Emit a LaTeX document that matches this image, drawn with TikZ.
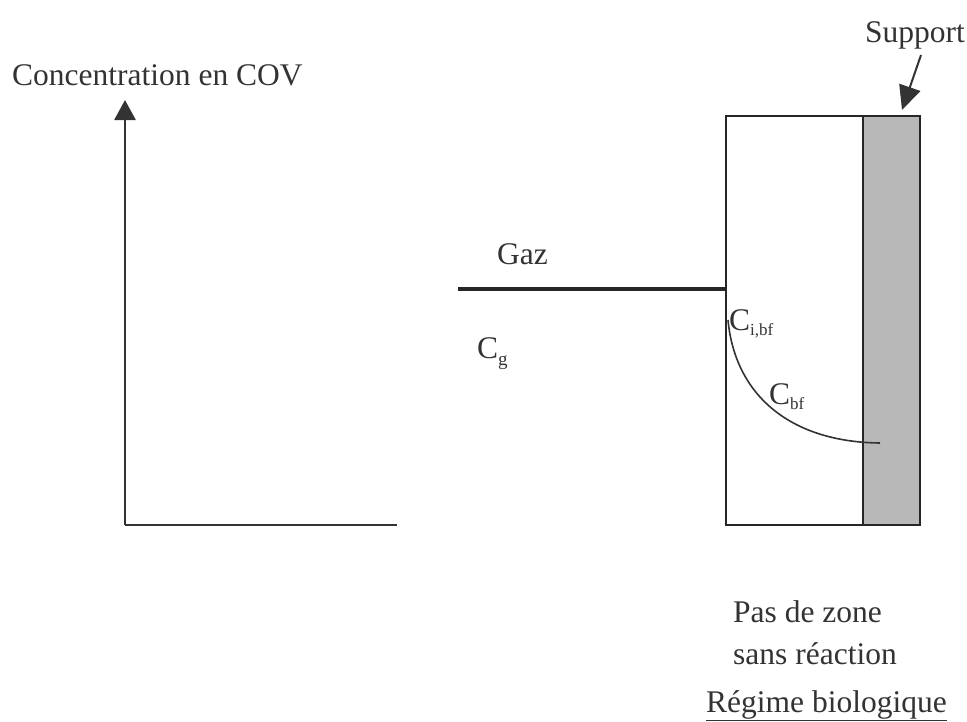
\documentclass[tikz,border=0pt]{standalone}
\usepackage{fontspec}
\setmainfont{Liberation Serif}
\usetikzlibrary{arrows.meta}
\begin{document}
\begin{tikzpicture}[x=1pt,y=-1pt,
  lbl/.style={font=\fontsize{31.5}{37}\selectfont, inner sep=0pt, text=black!80},
  axisline/.style={line width=2.8pt, draw=black!80},
  bigarrow/.style={-{Triangle[length=20pt,width=21pt]}},
  boxline/.style={line width=1.8pt, draw=black!85}]
\useasboundingbox (0,0) rectangle (967,721);
% axes
\coordinate (origin) at (125,525);
\coordinate (ytop) at (125,100);
\coordinate (xend) at (397,525);
\draw[axisline, bigarrow] (origin) -- (ytop);
\draw[axisline] (origin) -- (xend);
\node[lbl, anchor=base west] (ylabel) at (12,85) {Concentration en COV};
% gas line
\coordinate (gasstart) at (458,289);
\coordinate (gasend) at (727,289);
\draw[line width=4.8pt, draw=black!85] (gasstart) -- (gasend);
\node[lbl, anchor=base west] (gaz) at (497,264) {Gaz};
\node[lbl, anchor=base west] (cg) at (477,358) {C\raisebox{-0.5ex}{\fontsize{19}{22}\selectfont g}};
% biofilm box
\path[fill=black!28] (863,116) rectangle (920,525);
\draw[boxline] (726,116) rectangle (920,525);
\draw[boxline] (863,116) -- (863,525);
\node[draw=none, inner sep=0pt] (support) at (891,320) {};
% concentration profile
\coordinate (ci) at (728,320);
\coordinate (cend) at (880,443);
\draw[line width=1.6pt, draw=black!80] (ci) .. controls (735,395) and (790,442) .. (cend);
\node[lbl, anchor=base west] (cibf) at (729,330) {C\raisebox{-0.35ex}{\fontsize{17}{20}\selectfont i,bf}};
\node[lbl, anchor=base west] (cbf) at (769,404) {C\raisebox{-0.35ex}{\fontsize{17}{20}\selectfont bf}};
% support label and arrow
\node[lbl, anchor=base west] (suplabel) at (865,42) {Support};
\coordinate (arrstart) at (921,55);
\coordinate (arrtip) at (902,110);
\draw[line width=2pt, draw=black!80, -{Triangle[length=24pt,width=22pt]}] (arrstart) -- (arrtip);
% bottom labels
\node[lbl, anchor=base west] (pas) at (733,622) {Pas de zone};
\node[lbl, anchor=base west] (sans) at (733,664) {sans réaction};
\node[lbl, anchor=base west] (regime) at (706,712) {\underline{Régime biologique}};
\end{tikzpicture}
\end{document}
